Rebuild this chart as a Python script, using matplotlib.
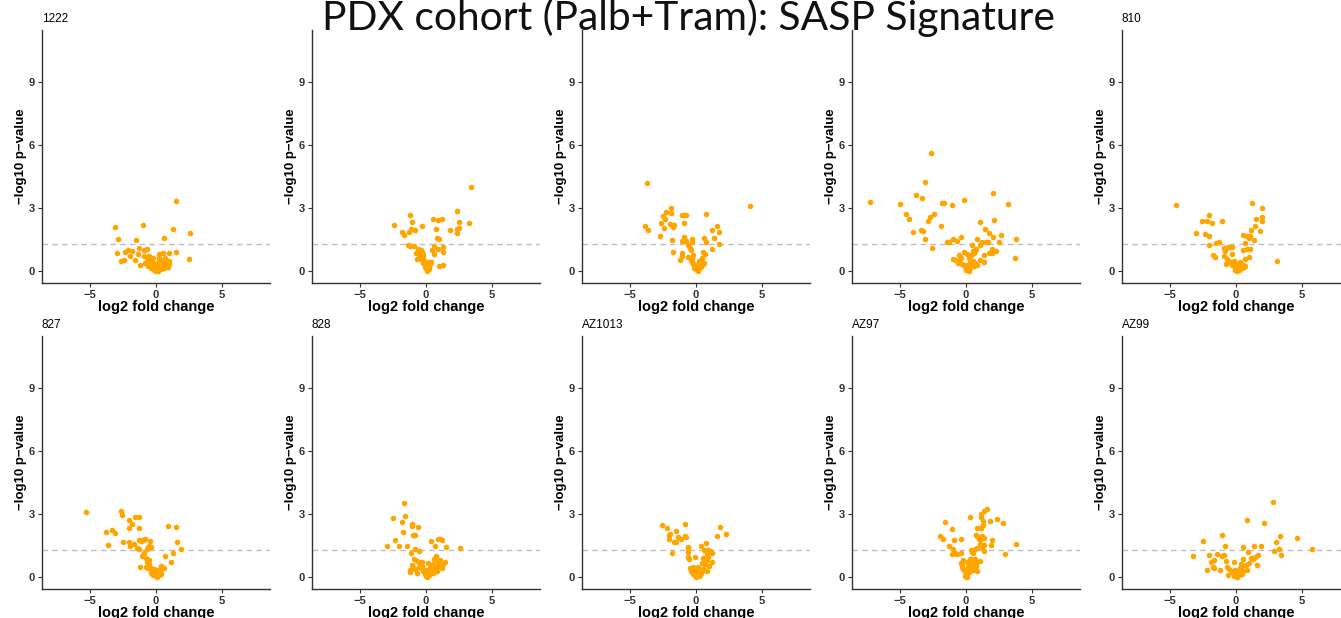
import numpy as np
import matplotlib
matplotlib.use('Agg')
import matplotlib.pyplot as plt

plt.rcParams['font.family'] = ['Liberation Sans', 'DejaVu Sans']

main_title = 'PDX cohort (Palb+Tram): SASP Signature'
names = ['1222', '', '', '', '810', '827', '828', 'AZ1013', 'AZ97', 'AZ99']
sig_line = 1.3   # -log10(0.05)
xticks = [-5, 0, 5]
yticks = [0, 3, 6, 9]

# log2 fold change / -log10 p-value
x_1222 = [1.51, -3.08, -1.0, 1.28, 2.59, -2.87, -1.54, 0.59, -2.95, -2.38, -2.13, -1.82, -1.36, -0.92,
          -0.72, -2.67, -2.46, -1.95, -1.62, -1.26, -1.2, 1.54, 0.97, 0.54, 0.23, 2.51,
          -0.9, -0.7, -0.5, -0.6, -0.4, -0.3, -0.8, -0.5, -0.2, -0.1, 0.0, 0.1, 0.2, 0.3, 0.4, 0.5,
          0.6, 0.7, 0.8, 1.0, 1.0, 0.9, 0.5, 0.3, -0.3, -0.6, 0.1, -0.2, 0.6, -0.1, 0.2, 0.4, -0.4,
          0.05, -0.15, 0.15, 0.7, -0.7]
y_1222 = [3.32, 2.09, 2.18, 2.0, 1.80, 1.51, 1.49, 1.57, 0.85, 0.91, 1.0, 0.96, 0.83, 1.0,
          1.04, 0.47, 0.51, 0.71, 0.55, 1.08, 0.3, 0.9, 0.88, 0.87, 0.83, 0.59,
          0.7, 0.6, 0.7, 0.5, 0.55, 0.45, 0.4, 0.3, 0.2, 0.1, 0.0, 0.05, 0.15, 0.3, 0.35, 0.5,
          0.55, 0.4, 0.3, 0.5, 0.35, 0.2, 0.2, 0.5, 0.35, 0.25, 0.4, 0.6, 0.15, 0.3, 0.6, 0.1, 0.15,
          0.2, 0.05, 0.0, 0.6, 0.35]

x_p2 = [3.38, 2.37, -1.2, 0.53, 0.89, 1.2, 2.52, 3.23, -1.04, -2.44, -0.28, 2.54, 2.37, 1.83, 0.79,
        -1.15, -0.81, -1.81, -1.65, -1.32, 2.32, 0.87, 0.99, -1.37, -1.2, -0.89, 1.32, 1.32, 0.59,
        0.46, 0.64, 0.89, 0.99, 1.32, -0.74, -0.69,
        -0.6, -0.5, -0.4, -0.3, -0.45, -0.35, -0.2, -0.3, -0.15, -0.25, -0.1, 0.0, 0.1, 0.05, 0.2,
        0.3, 0.4, 0.1, -0.05, 0.25, -0.5, -0.2, 0.15]
y_p2 = [3.99, 2.87, 2.68, 2.47, 2.42, 2.47, 2.36, 2.3, 2.33, 2.18, 2.17, 2.04, 2.0, 1.96, 1.99,
        1.99, 1.96, 1.88, 1.74, 1.85, 1.8, 1.58, 1.55, 1.24, 1.21, 1.2, 1.16, 0.91, 1.21,
        1.0, 0.8, 1.05, 0.24, 0.27, 0.85, 0.59,
        1.05, 0.95, 1.0, 0.9, 0.75, 0.7, 0.8, 0.55, 0.5, 0.4, 0.3, 0.15, 0.05, 0.0, 0.2,
        0.35, 0.45, 0.3, 0.2, 0.1, 0.6, 0.65, 0.45]

x_p3 = [-3.72, 4.08, -1.92, -1.87, -2.31, -2.54, -2.38, -2.67, -3.85, -3.62, -2.46, -2.0, -1.74,
        -1.67, -2.72, -1.85, -1.74, -1.03, -0.92, -0.77, -0.92, 0.77, 1.21, 1.62, 1.38, 1.74, 1.74,
        1.18, 0.62, 0.77, -0.92, -1.03, -0.77, -0.33, -0.33, -0.59, -0.46, -0.41, -1.1, -1.03,
        -1.18, -0.2, -0.33, -0.59, 0.56, 0.69, 0.44,
        -0.3, -0.2, -0.1, 0.0, 0.1, 0.2, 0.3, 0.4, 0.5, 0.6, -0.15, 0.05, 0.25, 0.35, -0.4, 0.15]
y_p3 = [4.18, 3.09, 3.0, 2.75, 2.82, 2.63, 2.47, 2.31, 2.17, 1.95, 2.04, 2.25, 2.12,
        2.2, 1.67, 1.47, 0.91, 2.68, 2.68, 2.66, 2.28, 2.7, 1.98, 2.15, 1.56, 1.85, 1.31,
        1.07, 1.59, 1.39, 1.64, 1.42, 1.44, 1.52, 1.39, 1.24, 1.08, 1.0, 0.85, 0.72,
        0.53, 0.77, 0.61, 0.69, 0.93, 0.81, 0.61,
        0.45, 0.35, 0.25, 0.1, 0.05, 0.15, 0.3, 0.45, 0.35, 0.4, 0.15, 0.3, 0.5, 0.2, 0.55, 0.0]

x_p4 = [-2.64, -3.08, -7.28, -5.03, -3.82, -3.33, -0.15, -1.79, -1.64, -1.03, 2.05, 3.18, -4.56,
        -4.31, -2.41, -2.74, -2.87, -3.41, -3.28, -4.05, -3.13, -2.56, -1.87, 1.08, 2.13, 1.41,
        1.72, 2.03, 2.69, 3.77, 3.72, 0.87, -0.38, -1.44, -1.28, -0.97, -0.69, 1.54, 1.67, 2.54,
        1.21, 0.44, 1.08, 1.97, 2.26, 1.72, 1.97, 0.79, 0.67, 0.51, -0.13, 0.05, -0.97, -0.79,
        -0.56, -0.41, 1.33, 1.38, 1.03,
        -0.5, -0.3, 0.0, 0.3, 0.5, 0.7, 0.8, 0.1, 0.0, -0.1, 0.2, 0.4, 0.6, -0.6, 0.35, 0.6, 0.2]
y_p4 = [5.61, 4.24, 3.3, 3.21, 3.62, 3.48, 3.38, 3.27, 3.27, 3.14, 3.7, 3.19, 2.7,
        2.5, 2.7, 2.59, 2.38, 1.94, 1.9, 1.87, 1.55, 1.12, 2.14, 2.34, 2.44, 1.99,
        1.83, 1.64, 1.74, 1.55, 0.62, 1.55, 1.61, 1.39, 1.37, 1.52, 1.41, 1.37, 1.37, 1.37,
        1.37, 1.23, 1.24, 1.04, 0.96, 0.86, 0.85, 1.05, 0.94, 0.97, 0.89, 0.81, 0.57, 0.53,
        0.75, 0.64, 0.77, 0.43, 0.53,
        0.45, 0.35, 0.3, 0.45, 0.5, 0.4, 0.3, 0.15, 0.05, 0.2, 0.0, 0.2, 0.25, 0.4, 0.75, 0.85, 0.6]

x_810 = [-4.56, 1.23, -2.03, -2.59, -2.18, -1.82, -1.1, -3.0, -2.36, -2.08, -2.03, -1.49, -1.26,
         -1.74, -1.56, 1.97, 1.97, 1.97, 1.51, 1.41, 1.13, 1.85, 0.51, 0.87, 0.95, 1.03, 1.38,
         0.72, 0.51, 0.82, 1.08, 0.95, 0.72, 3.1, -0.92, -0.77, -0.62, -0.46, -0.33, -0.82,
         -0.9, -0.72, -0.77, -0.46, -0.33,
         -0.4, -0.3, -0.2, -0.1, 0.0, 0.1, 0.2, 0.3, 0.4, 0.5, 0.6, 0.7, 0.2, -0.15, 0.05, 0.45,
         -0.05, 0.3]
y_810 = [3.15, 3.23, 2.66, 2.39, 2.41, 2.3, 2.39, 1.8, 1.75, 1.69, 1.22, 1.33, 1.4,
         0.77, 0.69, 3.02, 2.58, 2.39, 2.5, 2.17, 1.96, 1.89, 1.73, 1.67, 1.6, 1.67, 1.46,
         1.35, 1.0, 1.03, 1.06, 0.67, 0.59, 0.5, 1.08, 1.12, 1.16, 1.16, 1.14, 0.96,
         0.71, 0.59, 0.35, 0.43, 0.83,
         0.45, 0.3, 0.35, 0.2, 0.1, 0.0, 0.05, 0.2, 0.35, 0.3, 0.2, 0.25, 0.4, 0.5, 0.3, 0.15,
         0.05, 0.45]

x_827 = [-5.33, -2.69, -2.56, -1.62, -1.28, -2.03, -1.79, -2.08, -1.28, -3.36, -3.08, -3.77, 0.9,
         1.51, 1.59, -2.54, -2.08, -2.0, -3.62, -1.69, -1.31, -1.15, -0.97, -0.85, -0.46, -1.46,
         -1.28, -0.62, -0.41, -0.72, -0.56, 1.92, 1.31, 0.67, 1.13, -1.08, -0.9, -0.77, -0.54,
         -0.72, -0.56, -1.18, -0.79, -0.59, 0.64, 0.36, 0.49,
         -0.4, -0.3, -0.2, -0.1, 0.0, 0.05, 0.1, 0.2, 0.3, 0.15, -0.15, 0.25, -0.05, 0.35, -0.25,
         0.1, -0.35]
y_827 = [3.08, 3.16, 2.98, 2.87, 2.86, 2.74, 2.55, 2.33, 2.33, 2.26, 2.12, 2.14, 2.42,
         2.41, 1.67, 1.67, 1.66, 1.48, 1.53, 1.56, 1.77, 1.74, 1.77, 1.82, 1.71, 1.4,
         1.34, 1.45, 1.44, 1.32, 1.5, 1.32, 1.15, 0.99, 0.7, 1.0, 1.13, 0.89, 0.81,
         0.72, 0.61, 0.46, 0.46, 0.45, 0.43, 0.53, 0.48,
         0.45, 0.35, 0.25, 0.15, 0.05, 0.0, 0.1, 0.2, 0.3, 0.35, 0.4, 0.1, 0.3, 0.15, 0.1,
         0.25, 0.2]

x_828 = [-1.67, -1.62, -2.54, -1.82, -1.08, -1.05, -0.62, -1.74, -1.0, -0.85, -2.38, -2.95, -2.03,
         -1.46, -0.82, -0.51, -1.15, 0.38, 0.92, 1.1, 1.23, 0.67, 1.49, 2.56, 0.77, 0.64, 0.9,
         1.08, 1.28, 1.44, 1.18, -0.92, -0.72, -0.54, -0.33, -1.1, -0.97, -0.82, -1.23, -1.23,
         -0.56, -0.41, -0.67,
         -0.3, -0.2, -0.1, 0.0, 0.05, 0.1, 0.2, 0.3, 0.4, 0.5, 0.6, 0.7, 0.8, 0.9, 0.4, 0.25,
         -0.05, 0.15, 0.55]
y_828 = [3.51, 2.89, 2.82, 2.62, 2.52, 2.44, 2.39, 2.14, 2.03, 2.01, 1.77, 1.5, 1.47,
         1.47, 1.36, 1.26, 1.13, 1.72, 1.83, 1.8, 1.75, 1.48, 1.42, 1.4, 1.0, 0.88, 0.73,
         0.81, 0.62, 0.7, 0.45, 0.85, 0.78, 0.72, 0.73, 0.57, 0.41, 0.37, 0.32, 0.22,
         0.5, 0.42, 0.21,
         0.55, 0.3, 0.15, 0.05, 0.0, 0.2, 0.35, 0.45, 0.55, 0.6, 0.5, 0.4, 0.3, 0.55, 0.25, 0.1,
         0.35, 0.65, 0.2]

x_az1013 = [-2.6, -0.84, -2.22, -1.53, -1.96, -2.07, -0.87, -0.77, -1.35, -1.12, -2.07, -1.68,
            -1.51, 1.79, 2.24, 1.61, 0.74, 0.41, -0.64, -0.59, -1.79, 0.59, -0.61, 0.94, 1.07,
            1.22, 0.82, 0.94, -0.61, -0.54, -0.1, 0.51, 0.69, 0.87, 1.2, 0.43, 0.69, 1.02, 0.82,
            -0.46, -0.33, -0.2, 0.18, 0.31,
            -0.3, -0.2, -0.1, 0.0, 0.05, 0.1, 0.2, 0.3, 0.4, 0.5, -0.15, 0.15, 0.25, -0.05, 0.35,
            0.6, -0.4]
y_az1013 = [2.49, 2.54, 2.33, 2.21, 2.06, 2.03, 1.95, 1.89, 1.89, 1.83, 1.81, 1.68,
            1.65, 2.37, 2.06, 1.98, 1.63, 1.46, 1.41, 1.38, 1.17, 1.3, 1.19, 1.27, 1.22,
            1.16, 1.1, 0.98, 0.94, 0.84, 0.94, 0.9, 0.86, 0.83, 0.73, 0.68, 0.6, 0.52, 0.27,
            0.43, 0.38, 0.48, 0.48, 0.35,
            0.25, 0.15, 0.1, 0.0, 0.05, 0.15, 0.2, 0.1, 0.3, 0.4, 0.3, 0.3, 0.05, 0.2, 0.2,
            0.35, 0.3]

x_az97 = [1.61, 1.33, 1.15, 0.31, 1.17, 2.35, 1.79, 2.81, -1.58, 1.28, 1.28, 0.84, 1.17, -1.1,
          -1.94, -1.76, -0.92, -0.38, 0.74, 0.87, 1.2, 1.33, 0.97, 1.17, 1.99, 3.8, 1.89, -1.3,
          -1.02, 1.07, 1.33, 1.2, 0.82, 0.66, 0.36, 0.56, 0.48, 1.38, 2.93, -1.07, -0.87, -0.69,
          -0.41, -0.2, -0.41, -0.33, 0.36, 0.51, 0.69, 0.84, 1.05, 0.77, 0.41, 0.87,
          -0.3, -0.2, -0.1, 0.0, 0.05, 0.1, 0.2, 0.3, 0.15, -0.05, 0.25, 0.4, 0.5, 0.6, 0.1, 0.3]
y_az97 = [3.27, 3.16, 3.03, 2.87, 2.86, 2.76, 2.66, 2.6, 2.63, 2.66, 2.47, 2.33, 2.33, 2.3,
          1.98, 1.8, 1.75, 1.8, 2.01, 1.95, 1.96, 1.88, 1.8, 1.8, 1.75, 1.56, 1.53, 1.5,
          1.34, 1.56, 1.55, 1.45, 1.4, 1.34, 1.29, 1.16, 1.21, 1.24, 1.1, 1.1, 1.13, 1.1,
          1.16, 0.81, 0.69, 0.57, 0.86, 0.78, 0.85, 0.73, 0.78, 0.53, 0.61, 0.27,
          0.5, 0.4, 0.3, 0.15, 0.0, 0.1, 0.25, 0.4, 0.5, 0.05, 0.6, 0.45, 0.35, 0.55, 0.7, 0.85]

x_az99 = [2.82, 0.82, 2.15, -1.03, 3.33, 4.64, -2.51, 3.0, 5.79, -0.87, 0.51, 1.33, 1.92, 3.26,
          2.87, 3.44, -3.26, -2.08, -1.46, -1.1, -0.9, -1.9, -1.67, -1.77, -1.64, -2.23, -0.79,
          -0.72, -0.54, -0.59, -1.18, -0.18, 0.9, 1.15, 1.28, 1.46, 1.67, 1.59, 0.54, 0.95, 0.74,
          0.49, 0.82, 0.56, 0.31,
          -0.3, -0.2, -0.1, 0.0, 0.05, 0.1, 0.2, 0.3, 0.4, -0.05, 0.15, 0.25, -0.15, 0.35, 0.45]
y_az99 = [3.56, 2.71, 2.58, 1.99, 1.96, 1.87, 1.71, 1.66, 1.32, 1.48, 1.42, 1.5, 1.5, 1.32,
          1.24, 1.05, 1.0, 1.04, 1.08, 1.0, 1.05, 0.7, 0.8, 0.49, 0.45, 0.35, 0.75,
          0.49, 0.4, 0.1, 0.32, 0.7, 1.19, 0.91, 0.87, 0.98, 1.03, 0.59, 0.88, 0.69, 0.58,
          0.53, 0.34, 0.27, 0.29,
          0.3, 0.2, 0.15, 0.05, 0.0, 0.1, 0.2, 0.45, 0.6, 0.35, 0.3, 0.1, 0.05, 0.35, 0.15]

xs = [x_1222, x_p2, x_p3, x_p4, x_810, x_827, x_828, x_az1013, x_az97, x_az99]
ys = [y_1222, y_p2, y_p3, y_p4, y_810, y_827, y_828, y_az1013, y_az97, y_az99]

W, H = 1341, 618
fig = plt.figure(figsize=(W / 100, H / 100), dpi=100)

for i in range(10):
    row, col = divmod(i, 5)
    left = 42 + 270 * col
    top = 30 + 306 * row
    ax = fig.add_axes([left / W, 1 - (top + 253) / H, 228 / W, 253 / H])
    ax.scatter(xs[i], ys[i], s=16, color='orange', linewidths=0, zorder=3)
    ax.axhline(sig_line, color='#BEBEBE', linestyle=(0, (4, 3)), linewidth=1, zorder=2)
    ax.set_xlim(-8.65, 8.65)
    ax.set_ylim(-0.57, 11.5)
    ax.set_xticks(xticks)
    ax.set_yticks(yticks)
    ax.set_xticklabels(['\u22125', '0', '5'])
    for s in ['top', 'right']:
        ax.spines[s].set_visible(False)
    for s in ['left', 'bottom']:
        ax.spines[s].set_color('#333333')
        ax.spines[s].set_linewidth(1)
    ax.tick_params(direction='out', length=3, width=0.8, color='#333333',
                   labelsize=8, labelcolor='#333333', pad=2)
    for lab in ax.get_xticklabels() + ax.get_yticklabels():
        lab.set_fontweight('bold')
    ax.set_xlabel('log2 fold change', fontsize=10.5, fontweight='bold', labelpad=0)
    ax.set_ylabel('\u2212log10 p\u2212value', fontsize=9.5, fontweight='bold', labelpad=1)
    if names[i]:
        ax.set_title(names[i], loc='left', fontsize=8.5, pad=6)

# slide title, its top edge runs into the top of the picture
t = fig.text(688 / W, 1 - 30 / H, main_title, ha='center', va='baseline',
             fontsize=29, family=['Lato', 'DejaVu Sans'], color='#111111')
fig.canvas.draw()
bb = t.get_window_extent()
t.set_fontsize(29 * 733 / bb.width)

fig.savefig('out.png', dpi=100)
